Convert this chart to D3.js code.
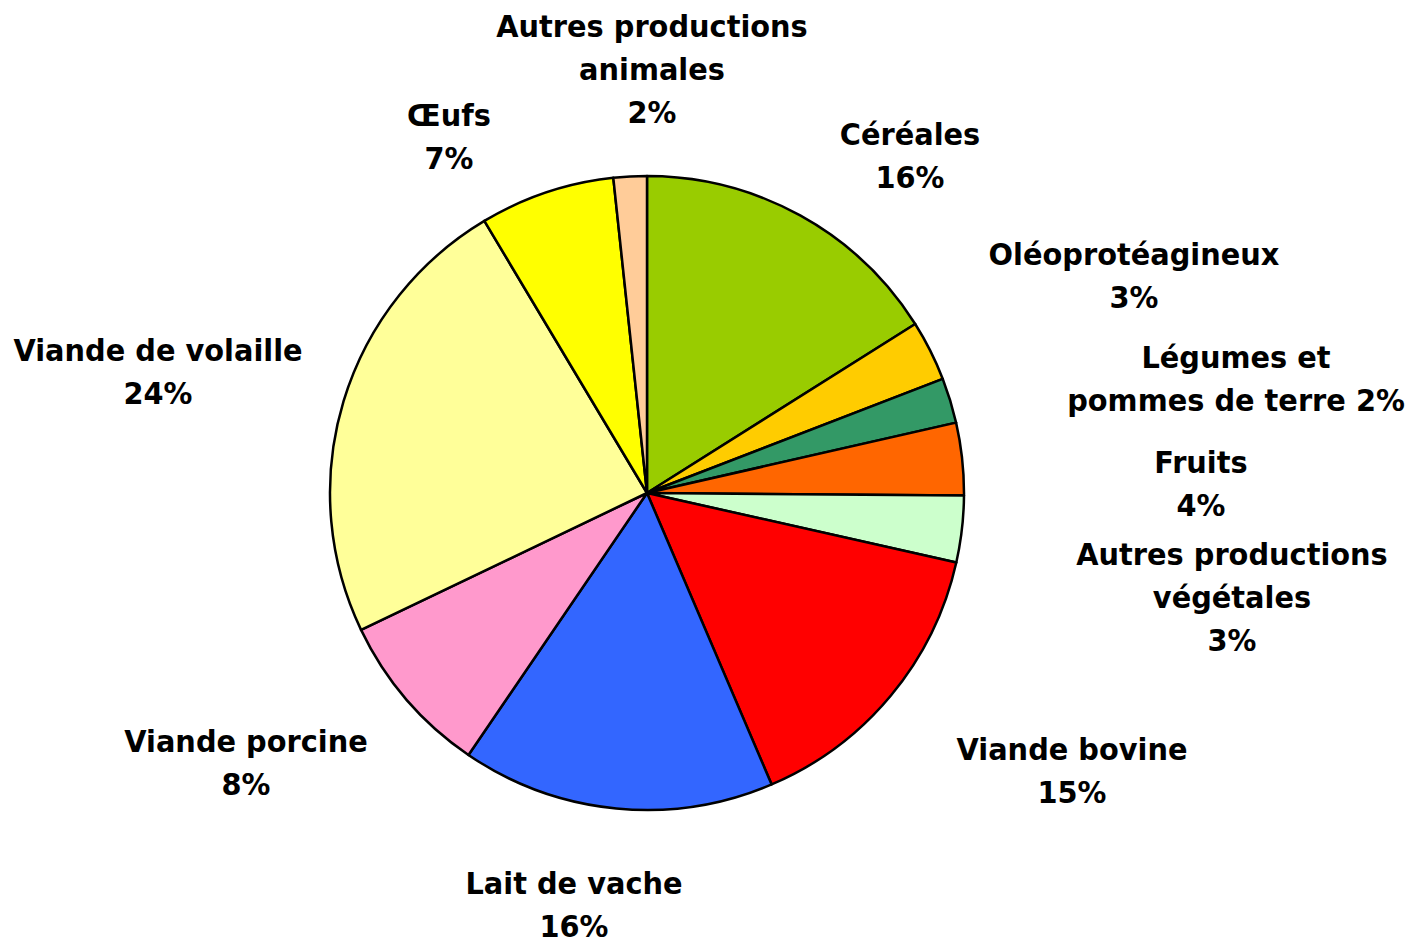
<!DOCTYPE html>
<html><head><meta charset="utf-8">
<script src="https://cdn.jsdelivr.net/npm/d3@7"></script>
<style>body{margin:0;background:#fff}</style>
</head><body>
<svg id="chart" width="1416" height="940"></svg>
<script>
const categories = ["Céréales","Oléoprotéagineux","Légumes et pommes de terre","Fruits","Autres productions végétales","Viande bovine","Lait de vache","Viande porcine","Viande de volaille","Œufs","Autres productions animales"];
const values = [16.1,3.1,2.3,3.7,3.4,15.1,16.0,8.4,23.6,6.9,1.7];
const colors = ["#99CC00","#FFCC00","#339966","#FF6600","#CCFFCC","#FF0000","#3366FF","#FF99CC","#FFFF99","#FFFF00","#FFCC99"];
// label lines ({p} is replaced by the percentage)
const labelLines = [
  ["Céréales","{p}"],
  ["Oléoprotéagineux","{p}"],
  ["Légumes et","pommes de terre {p}"],
  ["Fruits","{p}"],
  ["Autres productions","végétales","{p}"],
  ["Viande bovine","{p}"],
  ["Lait de vache","{p}"],
  ["Viande porcine","{p}"],
  ["Viande de volaille","{p}"],
  ["Œufs","{p}"],
  ["Autres productions","animales","{p}"]
];
// label anchor (centre of first line)
const labelPos = [[910,134],[1134,254],[1236,357],[1201,462],[1232,554],[1072,749],[574,883],[246,741],[158,350],[449,115],[652,26]];

const svg = d3.select("#chart");
const cx = 647, cy = 493, R = 317;
const total = d3.sum(values);
const pie = d3.pie().sort(null).value(d => d)(values);
const arc = d3.arc().innerRadius(0).outerRadius(R);
const g = svg.append("g").attr("transform", `translate(${cx},${cy})`);
g.selectAll("path").data(pie).join("path")
  .attr("d", arc)
  .attr("fill", (d,i) => colors[i])
  .attr("stroke", "#000").attr("stroke-width", 2.5).attr("stroke-linejoin","round");

const fmt = v => Math.round(v / total * 100) + "%";
const lineH = 43;
const lab = svg.append("g").attr("font-family","'DejaVu Sans', Verdana, sans-serif")
  .attr("font-weight","bold").attr("font-size", 31).attr("text-anchor","middle").attr("fill","#000");
categories.forEach((c,i) => {
  const t = lab.append("text")
    .attr("transform", `translate(${labelPos[i][0]},${labelPos[i][1]}) scale(0.93,1)`);
  labelLines[i].forEach((ln,k) => {
    t.append("tspan").attr("x",0).attr("y", k*lineH).attr("dy","0.36em")
      .text(ln.replace("{p}", fmt(values[i])));
  });
});
</script>
</body></html>
